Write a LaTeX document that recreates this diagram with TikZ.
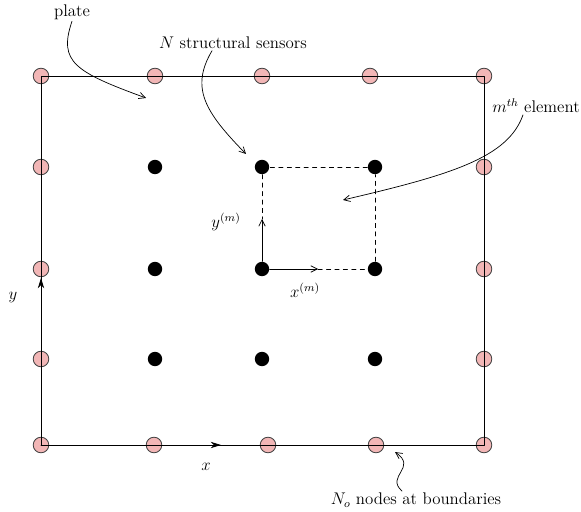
\documentclass[tikz,border=0pt]{standalone}
\usepackage{tikz}
\usetikzlibrary{arrows.meta,positioning}
\usepackage{amsmath}
\definecolor{nodepink}{RGB}{242,182,182}
\tikzset{
  bnode/.style={circle,draw=black!75,fill=nodepink,inner sep=0pt,minimum size=3.9mm},
  snode/.style={circle,fill=black,inner sep=0pt,minimum size=3.6mm},
  lbl/.style={inner sep=1pt,font=\large},
  axisarrow/.style={-{Stealth[length=2.6mm,width=1.6mm]}},
  thinarrow/.style={-{Straight Barb[length=1.6mm,width=1.6mm]},line width=0.5pt},
  every picture/.style={line cap=round,line join=round}}

\begin{document}
\begin{tikzpicture}[x=0.025cm,y=-0.025cm,line width=0.6pt]
  \useasboundingbox (0,0) rectangle (581,512);
  % boundary nodes
  \node[bnode] (n11) at (41,76){}; \node[bnode] (n12) at (155,76){};
  \node[bnode] (n13) at (262,76){}; \node[bnode] (n14) at (370,76){}; \node[bnode] (n15) at (484,76){};
  \node[bnode] (n21) at (41,167){}; \node[bnode] (n25) at (484,167){};
  \node[bnode] (n31) at (41,269){}; \node[bnode] (n35) at (484,269){};
  \node[bnode] (n41) at (41,359){}; \node[bnode] (n45) at (484,359){};
  \node[bnode] (n51) at (41,445){}; \node[bnode] (n52) at (154,445){};
  \node[bnode] (n53) at (268,445){}; \node[bnode] (n54) at (376,445){}; \node[bnode] (n55) at (484,445){};
  % sensors
  \node[snode] (n22) at (155,167){}; \node[snode] (n23) at (262,167){}; \node[snode] (n24) at (375,167){};
  \node[snode] (n32) at (155,269){}; \node[snode] (n33) at (262,269){}; \node[snode] (n34) at (375,269){};
  \node[snode] (n42) at (155,359){}; \node[snode] (n43) at (262,359){}; \node[snode] (n44) at (375,359){};
  % plate edges
  \draw (n11.center)--(n15.center)--(n55.center)--(n51.center)--cycle;
  \coordinate (xtip) at (221,445); \coordinate (ytip) at (41,278);
  \draw[axisarrow] (n51.center)--(xtip);
  \draw[axisarrow] (n51.center)--(ytip);
  % element
  \coordinate (xm) at (318,269); \coordinate (ym) at (262,219);
  \draw[thinarrow] (n33)--(xm); \draw[thinarrow] (n33)--(ym);
  \draw[dashed,line width=0.5pt] (xm)--(n34) (n34)--(n24) (n24)--(n23) (n23)--(ym);
  % labels
  \node[lbl] (plate) at (72,12){plate};
  \node[lbl] (sens) at (233,43){$N$ structural sensors};
  \node[lbl] (mth) at (536,106){$m^{th}$ element};
  \node[lbl] (bnd) at (416,500){$N_o$ nodes at boundaries};
  \node[lbl] (ylab) at (13,298){$y$}; \node[lbl] (xlab) at (206,467){$x$};
  \node[lbl] (ymlab) at (226,222){$y^{(m)}$}; \node[lbl] (xmlab) at (305,290){$x^{(m)}$};
  % pointers
  \coordinate (plt) at (146,98); \coordinate (snt) at (246,154);
  \coordinate (elt) at (343,200); \coordinate (bdt) at (395,452);
  \draw[thinarrow] (plate.south) .. controls (58,62) and (75,72) .. (plt);
  \draw[thinarrow] ([xshift=-21*0.025cm]sens.south) .. controls (190,88) and (205,112) .. (snt);
  \draw[thinarrow] ([xshift=-13*0.025cm]mth.south) .. controls (508,158) and (450,175) .. (elt);
  \draw[thinarrow] ([xshift=-14*0.025cm]bnd.north) .. controls (385,476) and (418,468) .. (bdt);
\end{tikzpicture}
\end{document}
